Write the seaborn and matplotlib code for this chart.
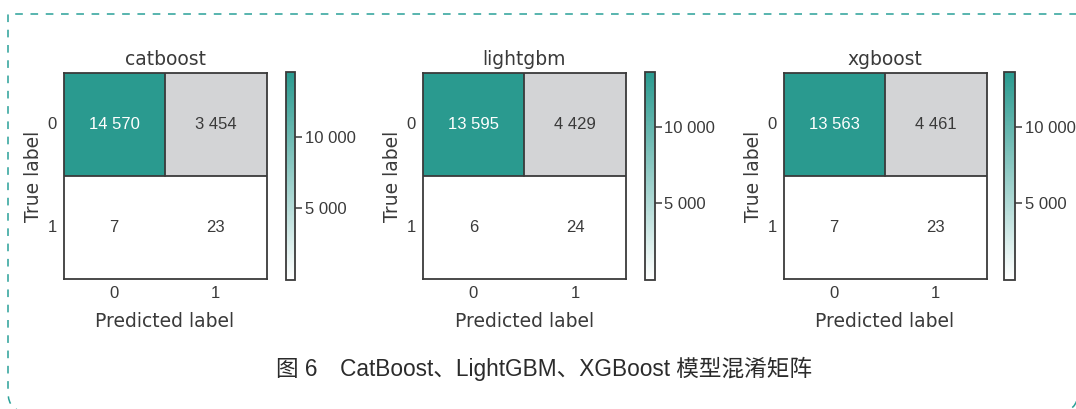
import numpy as np
import matplotlib
matplotlib.use("Agg")
import matplotlib.pyplot as plt
from matplotlib.colors import LinearSegmentedColormap, ListedColormap
from matplotlib.patches import PathPatch
from matplotlib.path import Path
from matplotlib.ticker import FuncFormatter
import seaborn as sns

# Confusion matrices (rows: true label, columns: predicted label)
models = ["catboost", "lightgbm", "xgboost"]
catboost_cm = [[14570, 3454], [7, 23]]
lightgbm_cm = [[13595, 4429], [6, 24]]
xgboost_cm = [[13563, 4461], [7, 23]]
class_labels = ["0", "1"]
cbar_ticks = [5000, 10000]
caption = "图 6\u3000CatBoost、LightGBM、XGBoost 模型混淆矩阵"

sns.set_theme(style="white")
plt.rcParams["font.family"] = ["DejaVu Sans"]

TEAL = "#2a9a8f"
GRAY = "#d3d4d6"
INK = "#3a3a3a"
NUM_FONT = ["Liberation Sans Narrow", "Liberation Sans", "DejaVu Sans"]

cmap = LinearSegmentedColormap.from_list("teal", ["#ffffff", TEAL])
gray_cmap = ListedColormap([GRAY])


def spaced(v, _pos=None):
    return f"{int(v):,}".replace(",", " ")


W, H = 1076, 409
fig = plt.figure(figsize=(W / 100, H / 100), dpi=100)

# dashed frame in a full-figure pixel-coordinate axes: square top-left corner,
# rounded bottom corners reaching the canvas edge
frame_ax = fig.add_axes([0, 0, 1, 1], zorder=-1)
frame_ax.set_xlim(0, W)
frame_ax.set_ylim(H, 0)
frame_ax.axis("off")
L, T, R, B, r = 8, 14, 1078, 412, 20
frame_style = dict(fill=False, edgecolor="#2aa198", linewidth=1.1, linestyle=(0, (5, 5)))
left_part = Path([(W + 5, T), (L, T), (L, B - r), (L, B), (L + r, B)],
                 [Path.MOVETO, Path.LINETO, Path.LINETO, Path.CURVE3, Path.CURVE3])
right_corner = Path([(R - r, B), (R, B), (R, B - r)],
                    [Path.MOVETO, Path.CURVE3, Path.CURVE3])
frame_ax.add_patch(PathPatch(left_part, **frame_style))
frame_ax.add_patch(PathPatch(right_corner, **frame_style))

# axes boxes in pixels: (left, right) for heatmap and colorbar
hm_x = [(63.5, 266.5), (422.5, 626), (783.5, 986.5)]
cb_x = [(285.5, 295.5), (644.5, 654.5), (1004, 1015)]
hm_y = (73, 279)
cb_y = (72, 279.5)

for name, cm, (hx0, hx1), (cx0, cx1) in zip(models, [catboost_cm, lightgbm_cm, xgboost_cm], hm_x, cb_x):
    data = np.array(cm)
    ax = fig.add_axes([hx0 / W, 1 - hm_y[1] / H, (hx1 - hx0) / W, (hm_y[1] - hm_y[0]) / H])
    cax = fig.add_axes([cx0 / W, 1 - cb_y[1] / H, (cx1 - cx0) / W, (cb_y[1] - cb_y[0]) / H])
    labels = np.vectorize(spaced)(data)

    sns.heatmap(data, ax=ax, cmap=cmap, vmin=data.min(), vmax=data.max(),
                annot=labels, fmt="", cbar=True, cbar_ax=cax,
                annot_kws={"fontsize": 12, "family": NUM_FONT, "color": INK},
                xticklabels=class_labels, yticklabels=class_labels)
    # the large diagonal count is printed in white
    ax.texts[0].set_color("white")

    # off-diagonal top-right cell in neutral gray
    m_tr = np.ones_like(data, dtype=bool)
    m_tr[0, 1] = False
    sns.heatmap(data, ax=ax, mask=m_tr, cmap=gray_cmap, cbar=False,
                xticklabels=class_labels, yticklabels=class_labels)

    # cell borders around the upper row
    ax.axhline(1, color=INK, lw=1.3)
    ax.axvline(1, ymin=0.5, ymax=1, color=INK, lw=1.3)

    for s in ax.spines.values():
        s.set_visible(True)
        s.set_color(INK)
        s.set_linewidth(1.3)
    ax.tick_params(direction="in", length=7, width=1.1, color=INK, labelcolor=INK,
                   labelsize=12, bottom=True, left=True, pad=5)
    for t in ax.get_xticklabels() + ax.get_yticklabels():
        t.set_family(NUM_FONT)
    ax.set_yticklabels(class_labels, rotation=0)
    ax.set_title(name, fontsize=13.5, color=INK, pad=6)
    ax.set_xlabel("Predicted label", fontsize=13.5, color=INK, labelpad=8)
    ax.set_ylabel("True label", fontsize=13.5, color=INK, labelpad=3)

    cbar = ax.collections[0].colorbar
    cbar.set_ticks(cbar_ticks)
    cbar.ax.yaxis.set_major_formatter(FuncFormatter(spaced))
    cbar.outline.set_visible(True)
    cbar.outline.set_edgecolor(INK)
    cbar.outline.set_linewidth(1.3)
    cax.tick_params(direction="out", length=5, width=1.1, color=INK, labelcolor=INK,
                    labelsize=12, right=True, pad=2)
    for t in cax.get_yticklabels():
        t.set_family(NUM_FONT)

# caption
fig.text(544 / W, 1 - 369 / H, caption, ha="center", va="center", fontsize=16.3,
         color="#2b2b2b", family=["Liberation Sans", "Noto Sans CJK SC"])

fig.savefig("out.png", dpi=100)
